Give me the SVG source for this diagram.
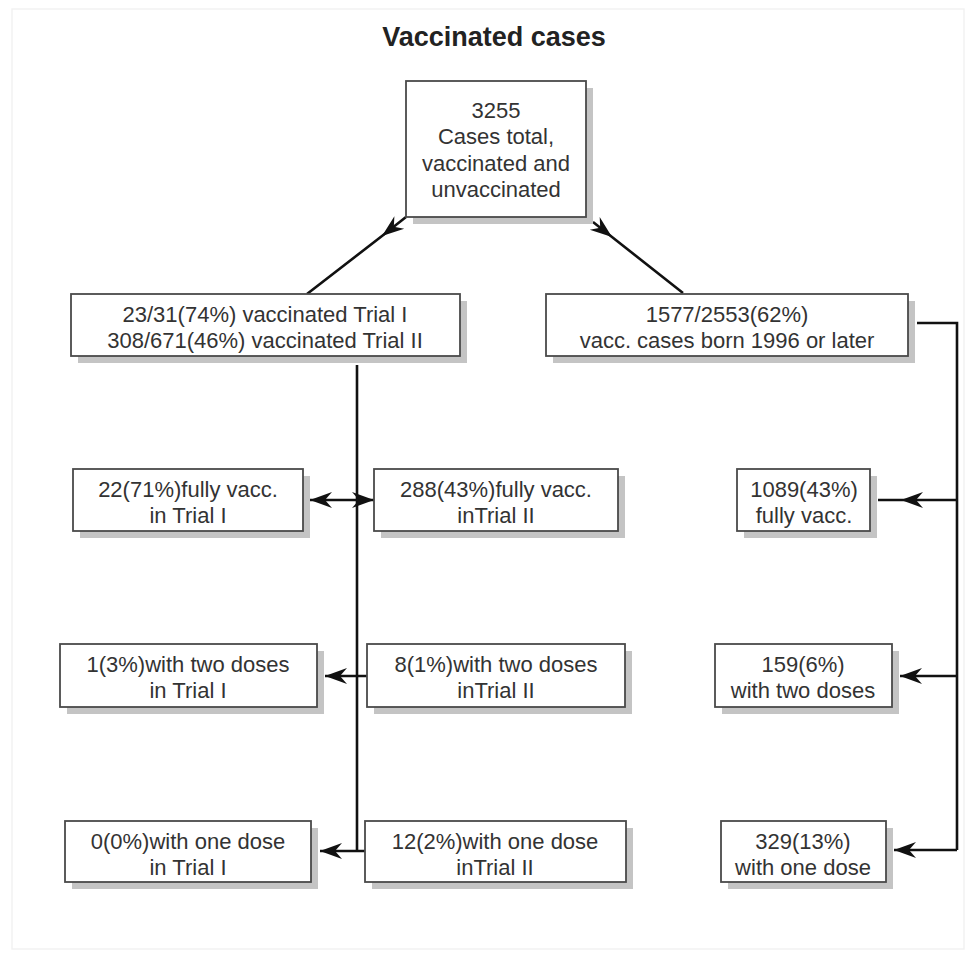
<svg xmlns="http://www.w3.org/2000/svg" width="971" height="961" viewBox="0 0 971 961">
<style>
.bg{fill:#ffffff}
.frame{fill:none;stroke:#f2f2f2;stroke-width:1.5}
.box{fill:#ffffff;stroke:#4a4a4a;stroke-width:1.8}
.sh{fill:#c4c4c4}
.t{font-family:"Liberation Sans",Arial,sans-serif;font-size:22px;fill:#333333;text-anchor:middle}
.title{font-family:"Liberation Sans",Arial,sans-serif;font-size:27px;font-weight:bold;fill:#222222;text-anchor:middle}
.c{fill:none;stroke:#111111;stroke-width:2.6}
</style>
<defs>
<marker id="arr" viewBox="0 0 24 18" markerWidth="24" markerHeight="18" refX="22" refY="9" orient="auto-start-reverse" markerUnits="userSpaceOnUse">
<path d="M22,9 L0,1 L7,9 L0,17 Z" fill="#111111"/>
</marker>
</defs>
<rect class="bg" x="0" y="0" width="971" height="961"/>
<rect class="frame" x="12" y="9" width="952" height="940"/>
<text class="title" x="494" y="46">Vaccinated cases</text>

<g id="connectors">
<path class="c" d="M406,217 L382,236 L307,294" marker-mid="url(#arr)"/>
<path class="c" d="M593,222 L612,237 L683,293" marker-mid="url(#arr)"/>
<path class="c" d="M357,365 L357,851"/>
<path class="c" d="M310,500 L374,500" marker-start="url(#arr)" marker-end="url(#arr)"/>
<path class="c" d="M367,676 L325,676" marker-end="url(#arr)"/>
<path class="c" d="M365,851 L320,851" marker-end="url(#arr)"/>
<path class="c" d="M917,323 L957,323 L957,850"/>
<path class="c" d="M957,500 L901,500 L878,500" marker-mid="url(#arr)"/>
<path class="c" d="M957,676 L900,676" marker-end="url(#arr)"/>
<path class="c" d="M957,850 L894,850" marker-end="url(#arr)"/>
</g>

<g id="n-total">
<rect class="sh" x="413" y="88" width="180" height="136"/>
<rect class="box" x="406" y="81" width="180" height="136"/>
<text class="t" x="496" y="118">3255</text>
<text class="t" x="496" y="144">Cases total,</text>
<text class="t" x="496" y="171">vaccinated and</text>
<text class="t" x="496" y="197">unvaccinated</text>
</g>

<g id="n-trial">
<rect class="sh" x="78" y="301" width="389" height="62"/>
<rect class="box" x="71" y="294" width="389" height="62"/>
<text class="t" x="265" y="322">23/31(74%) vaccinated Trial I</text>
<text class="t" x="265" y="348">308/671(46%) vaccinated Trial II</text>
</g>

<g id="n-born">
<rect class="sh" x="553" y="301" width="362" height="62"/>
<rect class="box" x="546" y="294" width="362" height="62"/>
<text class="t" x="727" y="322">1577/2553(62%)</text>
<text class="t" x="727" y="348">vacc. cases born 1996 or later</text>
</g>

<g id="n-full-t1">
<rect class="sh" x="80" y="476" width="230" height="62"/>
<rect class="box" x="73" y="469" width="230" height="62"/>
<text class="t" x="188" y="497">22(71%)fully vacc.</text>
<text class="t" x="188" y="523">in Trial I</text>
</g>

<g id="n-full-t2">
<rect class="sh" x="381" y="476" width="244" height="62"/>
<rect class="box" x="374" y="469" width="244" height="62"/>
<text class="t" x="496" y="497">288(43%)fully vacc.</text>
<text class="t" x="496" y="523">inTrial II</text>
</g>

<g id="n-full">
<rect class="sh" x="744" y="476" width="133" height="62"/>
<rect class="box" x="737" y="469" width="133" height="62"/>
<text class="t" x="804" y="497">1089(43%)</text>
<text class="t" x="804" y="523">fully vacc.</text>
</g>

<g id="n-two-t1">
<rect class="sh" x="67" y="651" width="257" height="63"/>
<rect class="box" x="60" y="644" width="257" height="63"/>
<text class="t" x="188" y="672">1(3%)with two doses</text>
<text class="t" x="188" y="698">in Trial I</text>
</g>

<g id="n-two-t2">
<rect class="sh" x="374" y="651" width="258" height="63"/>
<rect class="box" x="367" y="644" width="258" height="63"/>
<text class="t" x="496" y="672">8(1%)with two doses</text>
<text class="t" x="496" y="698">inTrial II</text>
</g>

<g id="n-two">
<rect class="sh" x="722" y="651" width="177" height="63"/>
<rect class="box" x="715" y="644" width="177" height="63"/>
<text class="t" x="803" y="672">159(6%)</text>
<text class="t" x="803" y="698">with two doses</text>
</g>

<g id="n-one-t1">
<rect class="sh" x="72" y="828" width="246" height="61"/>
<rect class="box" x="65" y="821" width="246" height="61"/>
<text class="t" x="188" y="849">0(0%)with one dose</text>
<text class="t" x="188" y="875">in Trial I</text>
</g>

<g id="n-one-t2">
<rect class="sh" x="372" y="828" width="261" height="61"/>
<rect class="box" x="365" y="821" width="261" height="61"/>
<text class="t" x="495" y="849">12(2%)with one dose</text>
<text class="t" x="495" y="875">inTrial II</text>
</g>

<g id="n-one">
<rect class="sh" x="728" y="828" width="165" height="61"/>
<rect class="box" x="721" y="821" width="165" height="61"/>
<text class="t" x="803" y="849">329(13%)</text>
<text class="t" x="803" y="875">with one dose</text>
</g>
</svg>
